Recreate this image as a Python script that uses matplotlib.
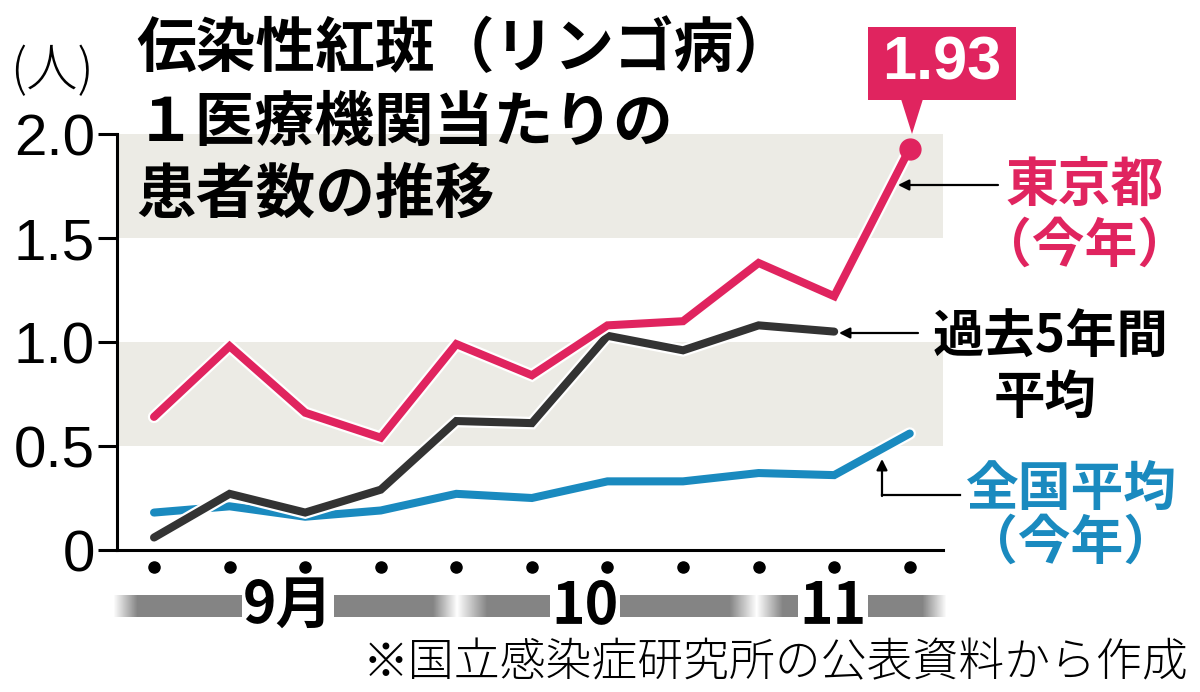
import numpy as np
import matplotlib
matplotlib.use('Agg')
import matplotlib.pyplot as plt
import matplotlib.patheffects as pe
from matplotlib.patches import Polygon, Rectangle

plt.rcParams['font.family'] = ['Noto Sans CJK JP', 'DejaVu Sans']

# weekly values (people per medical institution)
weeks = np.arange(11)
tokyo = [0.64, 0.98, 0.66, 0.54, 0.99, 0.84, 1.08, 1.10, 1.38, 1.22, 1.93]
past5 = [0.06, 0.27, 0.18, 0.29, 0.62, 0.61, 1.03, 0.96, 1.08, 1.05]
national = [0.18, 0.21, 0.16, 0.19, 0.27, 0.25, 0.33, 0.33, 0.37, 0.36, 0.56]
yticks = [0, 0.5, 1.0, 1.5, 2.0]
ytick_labels = ['0', '0.5', '1.0', '1.5', '2.0']
months = ['9月', '10', '11']
latest_label = '1.93'

PINK = '#e0245f'
BLUE = '#1a8abf'
DARK = '#333333'
BAND = '#ecebe5'

W, H = 1200, 692
fig = plt.figure(figsize=(W / 100, H / 100), dpi=100)

# main axes placed in pixel terms
ax = fig.add_axes([117 / W, (H - 550) / H, (943 - 117) / W, (550 - 134) / H])
ax.set_xlim(-0.49, 10.44)
ax.set_ylim(0, 2.0)

for lo, hi in [(0.5, 1.0), (1.5, 2.0)]:
    ax.axhspan(lo, hi, color=BAND, zorder=0, lw=0)

outline = [pe.Stroke(linewidth=9, foreground='white'), pe.Normal()]
ax.plot(weeks, national, color=BLUE, lw=5.8, solid_capstyle='round',
        solid_joinstyle='miter', zorder=3, path_effects=outline)
ax.plot(weeks[:len(past5)], past5, color=DARK, lw=5.8, solid_capstyle='round',
        solid_joinstyle='miter', zorder=4, path_effects=outline)
ax.plot(weeks, tokyo, color=PINK, lw=5.8, solid_capstyle='round',
        solid_joinstyle='miter', zorder=5, path_effects=outline)
ax.plot(weeks[-1], tokyo[-1], 'o', color=PINK, ms=15, zorder=6, clip_on=False)

# dots under the x axis
ax.plot(weeks, np.full(len(weeks), -0.082), 'o', color='black', ms=8,
        clip_on=False, zorder=6)

ax.spines['top'].set_visible(False)
ax.spines['right'].set_visible(False)
ax.spines['left'].set_linewidth(2.2)
ax.spines['bottom'].set_linewidth(2.2)
ax.set_xticks([])
ax.set_yticks(yticks)
ax.set_yticklabels(ytick_labels)
ax.tick_params(axis='y', length=14, width=2.2, pad=2, labelsize=42)
for lbl in ax.get_yticklabels():
    lbl.set_fontfamily('Liberation Sans')

# overlay for titles, labels and callouts (pixel coordinates)
ov = fig.add_axes([0, 0, 1, 1], zorder=10)
ov.set_facecolor('none')
ov.axis('off')

# month bar with fades
xs = np.arange(113, 948)
alpha = np.interp(xs, [113, 137, 433, 457, 487, 730, 757, 783, 923, 947],
                  [0, 1, 1, 0, 1, 1, 0, 1, 1, 0])
img = np.zeros((1, len(xs), 4))
img[..., :3] = 0.52
img[..., 3] = alpha
ov.imshow(img, extent=[113, 947, 617, 595], aspect='auto', interpolation='bilinear')
for m, mx in zip(months, [288, 585, 833]):
    ov.text(mx, 606, m, ha='center', va='center', fontsize=41, fontweight='bold',
            bbox=dict(facecolor='white', edgecolor='none', pad=1))

ov.set_xlim(0, W)
ov.set_ylim(H, 0)

# title
for txt, y in zip(['伝染性紅斑（リンゴ病）', '１医療機関当たりの', '患者数の推移'], [50, 124, 196]):
    ov.text(136, y, txt, ha='left', va='center', fontsize=43, fontweight='bold')
ov.text(52, 72, '(人)', ha='center', va='center', fontsize=37, fontweight='light')

# 1.93 callout
ov.add_patch(Rectangle((868, 27), 148, 73, color=PINK, lw=0))
ov.add_patch(Polygon([(901, 99), (923, 99), (912, 134)], closed=True, color=PINK, lw=0))
ov.text(942, 64, latest_label, ha='center', va='center', fontsize=44,
        fontweight='bold', color='white', family='Liberation Sans')

arrow = dict(arrowstyle='-|>', color='black', lw=1.6, mutation_scale=16,
             shrinkA=0, shrinkB=0)
ov.annotate('', xy=(898, 185), xytext=(998, 185), arrowprops=arrow)
ov.text(1085, 185, '東京都', ha='center', va='center', fontsize=38,
        fontweight='bold', color=PINK)
ov.text(1085, 246, '（今年）', ha='center', va='center', fontsize=38,
        fontweight='bold', color=PINK)

ov.annotate('', xy=(839, 333), xytext=(918, 333), arrowprops=arrow)
ov.text(1051, 337, '過去5年間', ha='center', va='center', fontsize=37,
        fontweight='bold', color='black')
ov.text(1045, 397, '平均', ha='center', va='center', fontsize=37,
        fontweight='bold', color='black')

ov.plot([960, 882], [495, 495], color='black', lw=1.6)
ov.annotate('', xy=(882, 459), xytext=(882, 496), arrowprops=arrow)
ov.text(1071, 490, '全国平均', ha='center', va='center', fontsize=38,
        fontweight='bold', color=BLUE)
ov.text(1071, 543, '（今年）', ha='center', va='center', fontsize=38,
        fontweight='bold', color=BLUE)

ov.text(1188, 663, '※国立感染症研究所の公表資料から作成', ha='right', va='center',
        fontsize=33, color='black', fontweight='light')

fig.savefig('out.png', dpi=100)
